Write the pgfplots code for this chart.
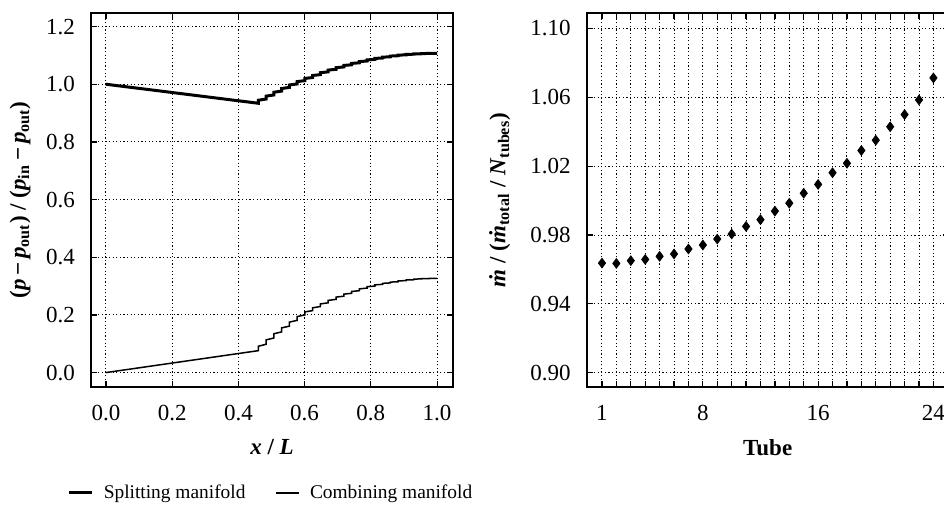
\documentclass[border=0pt]{standalone}
\usepackage{fontspec}
\setmainfont{Liberation Serif}
\usepackage{pgfplots}
\pgfplotsset{compat=1.18}
\pgfplotsset{mystyle/.style={
  scale only axis, width=181pt, height=187pt, anchor=south west,
  axis line style={line width=1.1pt},
  tick align=inside, tick pos=both, major tick length=3pt,
  tick style={black, line width=0.6pt},
  grid=major, major grid style={black, line width=0.5pt, dash pattern=on 0.6pt off 1.2pt},
  /pgf/number format/assume math mode=true,
  tick label style={font=\fontsize{11.5}{13}\selectfont},
  label style={font=\fontsize{11.5}{13}\selectfont\bfseries},
  yticklabel style={xshift=-4.5pt},
  xticklabel style={yshift=-5.5pt},
}}
\begin{document}
\begin{tikzpicture}
\useasboundingbox (0,0) rectangle (472pt,252.5pt);
\begin{scope}
\clip (0,0) rectangle (472pt,252.5pt);
\begin{axis}[mystyle, at={(45.5pt,59pt)},
  xmin=-0.045, xmax=1.048, ymin=-0.05, ymax=1.247,
  xtick={0,0.2,0.4,0.6,0.8,1.0}, ytick={0,0.2,0.4,0.6,0.8,1.0,1.2},
  xticklabel style={/pgf/number format/.cd, fixed, fixed zerofill, precision=1},
  yticklabel style={/pgf/number format/.cd, fixed, fixed zerofill, precision=1},
  xlabel={\textit{x} / \textit{L}},
  ylabel={(\textit{p}\,−\,\textit{p}\textsubscript{out}) / (\textit{p}\textsubscript{in}\,−\,\textit{p}\textsubscript{out})},
  xlabel style={at={(axis description cs:0.5,-0.16)}, anchor=center},
  ylabel style={at={(axis description cs:-0.196,0.5)}, anchor=center},
  legend columns=2,
  legend style={draw=none, fill=none, at={(0.5,-0.283)}, anchor=center, font=\fontsize{9.7}{12}\selectfont,
    /tikz/every odd column/.append style={column sep=3pt},
    /tikz/every even column/.append style={column sep=13pt}},
  legend image code/.code={\draw[#1] (0pt,0pt) -- (11.5pt,0pt);},
]
\addplot[black, line width=1.5pt, line join=miter] coordinates {
(0,1.0) (0.46,0.934) (0.46,0.9443) (0.4835,0.9487) (0.4835,0.9586) (0.507,0.9628) (0.507,0.9722) (0.5304,0.9762) (0.5304,0.9851) (0.5539,0.9889) (0.5539,0.9974) (0.5774,1.0010) (0.5774,1.0091) (0.6009,1.0125) (0.6009,1.0201) (0.6243,1.0233) (0.6243,1.0304) (0.6478,1.0334) (0.6478,1.0401) (0.6713,1.0429) (0.6713,1.0491) (0.6948,1.0517) (0.6948,1.0574) (0.7183,1.0599) (0.7183,1.0652) (0.7417,1.0674) (0.7417,1.0722) (0.7652,1.0743) (0.7652,1.0786) (0.7887,1.0805) (0.7887,1.0844) (0.8122,1.0861) (0.8122,1.0895) (0.8357,1.0910) (0.8357,1.0939) (0.8591,1.0952) (0.8591,1.0977) (0.8826,1.0988) (0.8826,1.1009) (0.9061,1.1018) (0.9061,1.1034) (0.9296,1.1041) (0.9296,1.1052) (0.9530,1.1057) (0.9530,1.1064) (0.9765,1.1067) (0.9765,1.1069) (1.0,1.107)
};
\addlegendentry{Splitting manifold}
\addplot[black, line width=0.75pt, line join=miter] coordinates {
(0,0) (0.46,0.076) (0.46,0.0914) (0.4835,0.098) (0.4835,0.1134) (0.507,0.120) (0.507,0.1347) (0.5304,0.141) (0.5304,0.155) (0.5539,0.161) (0.5539,0.175) (0.5774,0.181) (0.5774,0.1943) (0.6009,0.200) (0.6009,0.2105) (0.6243,0.215) (0.6243,0.2248) (0.6478,0.229) (0.6478,0.2381) (0.6713,0.242) (0.6713,0.2504) (0.6948,0.254) (0.6948,0.2617) (0.7183,0.265) (0.7183,0.272) (0.7417,0.275) (0.7417,0.2813) (0.7652,0.284) (0.7652,0.2903) (0.7887,0.293) (0.7887,0.2979) (0.8122,0.300) (0.8122,0.3042) (0.8357,0.306) (0.8357,0.3095) (0.8591,0.311) (0.8591,0.3138) (0.8826,0.315) (0.8826,0.3178) (0.9061,0.319) (0.9061,0.3211) (0.9296,0.322) (0.9296,0.3241) (0.9530,0.325) (0.9530,0.3257) (0.9765,0.326) (0.9765,0.3267) (1.0,0.327)
};
\addlegendentry{Combining manifold}
\end{axis}
\begin{axis}[mystyle, at={(293.35pt,59pt)},
  xmin=-0.06, xmax=25.06, ymin=0.8917, ymax=1.109,
  xtick={1,...,24}, xticklabels={1,,,,,,,8,,,,,,,,16,,,,,,,,24},
  ytick={0.90,0.94,0.98,1.02,1.06,1.10},
  yticklabel style={/pgf/number format/.cd, fixed, fixed zerofill, precision=2},
  xlabel={Tube},
  ylabel={\textit{\.m} / (\textit{\.m}\textsubscript{total} / \textit{N}\textsubscript{tubes})},
  xlabel style={at={(axis description cs:0.5,-0.162)}, anchor=center},
  ylabel style={at={(axis description cs:-0.24,0.5)}, anchor=center},
]
\addplot[only marks, mark=diamond*, mark size=2.4pt, black] coordinates {
(1,0.9637) (2,0.9635) (3,0.9651) (4,0.9658) (5,0.9676) (6,0.9690) (7,0.9719) (8,0.9742) (9,0.9777) (10,0.9806) (11,0.9850) (12,0.9889) (13,0.9939) (14,0.9985) (15,1.0043) (16,1.0094) (17,1.0162) (18,1.0217) (19,1.0291) (20,1.0351) (21,1.0429) (22,1.0500) (23,1.0585) (24,1.0713)
};
\end{axis}
\end{scope}
\end{tikzpicture}
\end{document}
